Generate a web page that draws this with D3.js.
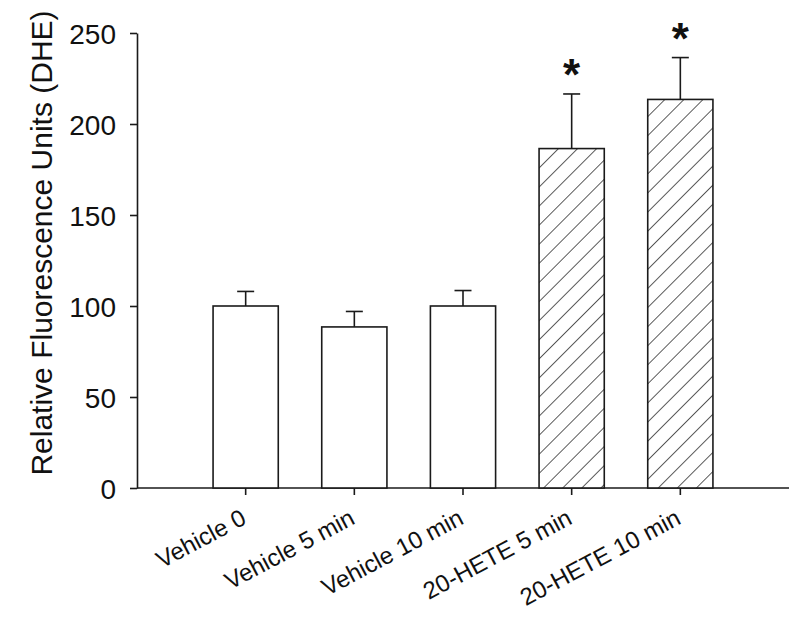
<!DOCTYPE html>
<html>
<head>
<meta charset="utf-8">
<script src="https://cdn.jsdelivr.net/npm/d3@7"></script>
<style>
  html, body { margin: 0; padding: 0; background: #fff; }
  svg { display: block; }
  text { font-family: "Liberation Sans", Arial, sans-serif; fill: #111; }
</style>
</head>
<body>
<div id="chart"></div>
<script>
// ---- data ----
const categories = ["Vehicle 0", "Vehicle 5 min", "Vehicle 10 min", "20-HETE 5 min", "20-HETE 10 min"];
const means = [100, 88.5, 100, 186.5, 213.5];
const errors = [8, 8.5, 8.5, 30, 23];
const hatched = [false, false, false, true, true];
const significant = [false, false, false, true, true];
const yTicks = [0, 50, 100, 150, 200, 250];
const yTitle = "Relative Fluorescence Units (DHE)";

const W = 800, H = 623;
const svg = d3.select("#chart").append("svg").attr("width", W).attr("height", H);

const defs = svg.append("defs");
const pat = defs.append("pattern")
  .attr("id", "hatch")
  .attr("patternUnits", "userSpaceOnUse")
  .attr("width", 13.5).attr("height", 13.5)
  .attr("patternTransform", "rotate(45)");
pat.append("rect").attr("width", 13.5).attr("height", 13.5).attr("fill", "#fff");
pat.append("line").attr("x1", 0).attr("y1", 0).attr("x2", 0).attr("y2", 13.5)
  .attr("stroke", "#333").attr("stroke-width", 1.6);

const x = d3.scaleBand().domain(categories).range([137, 789]).paddingInner(0.4).paddingOuter(0.7);
const y = d3.scaleLinear().domain([0, 250]).range([488, 33]);

const stroke = "#1a1a1a";

// y axis
const yAxis = svg.append("g").attr("transform", "translate(137,0)")
  .call(d3.axisLeft(y).tickValues(yTicks).tickSize(7).tickPadding(14).tickSizeOuter(0));
yAxis.select(".domain").attr("stroke", stroke).attr("stroke-width", 1.6);
yAxis.selectAll(".tick line").attr("stroke", stroke).attr("stroke-width", 1.6);
yAxis.selectAll(".tick text").style("font-size", "28px").attr("fill", "#111").attr("dy", "0.36em");

// x axis
const xAxis = svg.append("g").attr("transform", "translate(0,488)")
  .call(d3.axisBottom(x).tickSize(7).tickSizeOuter(0));
xAxis.select(".domain").attr("stroke", stroke).attr("stroke-width", 1.6)
  .attr("d", "M137,0H789");
xAxis.selectAll(".tick line").attr("stroke", stroke).attr("stroke-width", 1.6);
xAxis.selectAll(".tick text")
  .style("font-size", "24px")
  .attr("fill", "#111")
  .attr("text-anchor", "end")
  .attr("dy", "0")
  .attr("transform", "translate(2,35) rotate(-28)")
  .attr("y", 0).attr("x", 0);

// error bars (upper only)
const idx = d3.range(categories.length);
const errG = svg.append("g");
idx.forEach(i => {
  const cx = x(categories[i]) + x.bandwidth() / 2;
  errG.append("line").attr("x1", cx).attr("x2", cx)
    .attr("y1", y(means[i])).attr("y2", y(means[i] + errors[i]))
    .attr("stroke", stroke).attr("stroke-width", 1.6);
  errG.append("line").attr("x1", cx - 8.5).attr("x2", cx + 8.5)
    .attr("y1", y(means[i] + errors[i])).attr("y2", y(means[i] + errors[i]))
    .attr("stroke", stroke).attr("stroke-width", 1.6);
});

// bars
svg.append("g").selectAll("rect").data(idx).join("rect")
  .attr("x", i => x(categories[i]))
  .attr("width", x.bandwidth())
  .attr("y", i => y(means[i]))
  .attr("height", i => y(0) - y(means[i]))
  .attr("fill", i => hatched[i] ? "url(#hatch)" : "#fff")
  .attr("stroke", stroke).attr("stroke-width", 1.6);

// significance asterisks
svg.append("g").selectAll("text").data(idx.filter(i => significant[i])).join("text")
  .attr("x", i => x(categories[i]) + x.bandwidth() / 2)
  .attr("y", i => y(means[i] + errors[i]) - 4)
  .attr("text-anchor", "middle")
  .style("font-size", "44px").style("font-weight", "bold")
  .text("*");

// y title
svg.append("text")
  .attr("transform", "translate(52,243) rotate(-90)")
  .attr("text-anchor", "middle")
  .style("font-size", "30px")
  .text(yTitle);
</script>
</body>
</html>
